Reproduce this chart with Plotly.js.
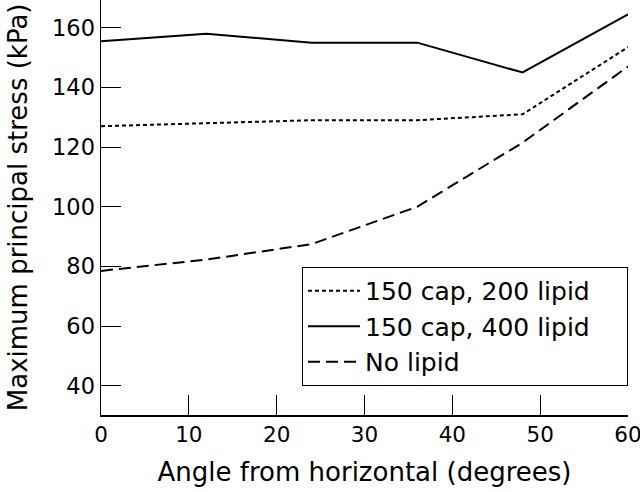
<!DOCTYPE html>
<html><head><meta charset="utf-8">
<script src="https://cdn.plot.ly/plotly-3.0.1.min.js"></script>
<style>html,body{margin:0;padding:0;background:#fff}</style>
</head><body><div id="chart" style="width:640px;height:492px"></div>
<script>
const angles = [0, 12, 24, 36, 48, 60];
const cap150lipid200 = [127, 128, 129, 129, 131, 153.5];
const cap150lipid400 = [155.5, 158, 155, 155, 145, 164.5];
const noLipid = [78.5, 82.3, 87.5, 100, 121.5, 147];
const seriesNames = ['150 cap, 200 lipid', '150 cap, 400 lipid', 'No lipid'];
const xTicks = [0, 10, 20, 30, 40, 50, 60];
const yTicks = [40, 60, 80, 100, 120, 140, 160];
const xTitle = 'Angle from horizontal (degrees)';
const yTitle = 'Maximum principal stress (kPa)';

const fam = 'DejaVu Sans, Liberation Sans, Arial, sans-serif';
const f = s => ({family: fam, size: s, color: '#000'});
const pad = '\u00a0\u00a0\u00a0\u00a0';
const traces = [
  {x: angles, y: cap150lipid200, name: seriesNames[0] + pad, mode: 'lines', legendgroup: 'a',
   line: {color: '#000', width: 2, dash: '4px,3px'}},
  {x: angles, y: cap150lipid400, name: seriesNames[1] + pad, mode: 'lines', legendgroup: 'b',
   line: {color: '#000', width: 2}},
  {x: angles, y: noLipid, name: seriesNames[2], mode: 'lines', legendgroup: 'c',
   line: {color: '#000', width: 2, dash: '12px,6px'}}
];
const layout = {
  width: 640, height: 492,
  margin: {l: 101, r: 12, t: 0, b: 77},
  paper_bgcolor: '#fff', plot_bgcolor: '#fff',
  font: f(21),
  showlegend: true,
  legend: {x: 1, xanchor: 'right', y: 0.07, yanchor: 'bottom',
           bordercolor: '#000', borderwidth: 1, bgcolor: '#fff',
           font: f(25), itemwidth: 52,
           traceorder: 'grouped', tracegroupgap: 0},
  xaxis: {range: [0, 60], tickvals: xTicks,
          ticks: 'inside', ticklen: 20, tickwidth: 1, tickcolor: '#000',
          showline: true, linecolor: '#000', linewidth: 1.5, showgrid: false, zeroline: false,
          tickfont: f(21.5), ticklabeloverflow: 'allow',
          title: {text: xTitle, font: f(26), standoff: 16}},
  yaxis: {range: [30.2, 169.3], tickvals: yTicks, ticksuffix: '\u2002',
          ticks: 'inside', ticklen: 20, tickwidth: 1, tickcolor: '#000',
          showline: true, linecolor: '#000', linewidth: 1.5, showgrid: false, zeroline: false,
          tickfont: f(22.5)},
  annotations: [{text: yTitle, xref: 'paper', yref: 'paper', x: -0.158, y: 0.5,
                 xanchor: 'center', yanchor: 'middle', textangle: -90, showarrow: false,
                 font: f(26)}]
};
Plotly.newPlot('chart', traces, layout, {displayModeBar: false, staticPlot: true});
</script></body></html>
